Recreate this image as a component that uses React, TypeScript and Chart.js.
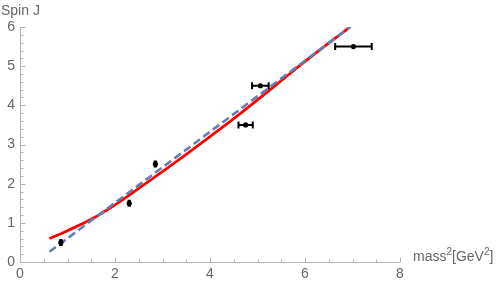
import React, { useEffect, useRef } from 'react';
import { Chart, registerables } from 'chart.js';

Chart.register(...registerables);

// Measured states (mass^2 in GeV^2, spin J) with horizontal errors
const massSq = [0.86, 2.3, 2.85, 4.75, 5.06, 7.02];
const spinJ = [0.5, 1.5, 2.5, 3.5, 4.5, 5.5];
const massSqErr = [0.015, 0.015, 0.015, 0.15, 0.175, 0.385];

// Linear trajectory (blue dashed)
const linearX = [0.62, 6.95];
const linearJ = [0.26, 6.0];

// Nonlinear trajectory (red)
const curveX = [0.62, 1.0, 1.5, 2.0, 2.5, 3.0, 3.5, 4.0, 4.5, 5.0, 5.5, 6.0, 6.5, 6.95];
const curveJ = [0.6, 0.8, 1.09, 1.46, 1.88, 2.31, 2.75, 3.2, 3.66, 4.14, 4.63, 5.12, 5.59, 6.0];

// Axes
const xTickLabels = [0, 2, 4, 6, 8];
const yTickLabels = [0, 1, 2, 3, 4, 5, 6];
const xMinorStep = 0.5;
const yMinorStep = 0.2;

const FONT = "'Liberation Sans', Arial, sans-serif";
const LABEL_COLOR = '#666666';
const AXIS_COLOR = '#b3b3b3';

const axesPlugin = {
  id: 'mmaAxes',
  beforeDatasetsDraw(chart: any) {
    const { ctx } = chart;
    const xs = chart.scales.x;
    const ys = chart.scales.y;
    const x0 = Math.round(xs.getPixelForValue(xs.min)) + 0.5;
    const x1 = xs.getPixelForValue(xs.max);
    const y0 = Math.round(ys.getPixelForValue(ys.min)) + 0.5;
    const y1 = ys.getPixelForValue(ys.max);
    ctx.save();
    ctx.strokeStyle = AXIS_COLOR;
    ctx.lineWidth = 1;
    ctx.beginPath();
    ctx.moveTo(x0, y0);
    ctx.lineTo(x1, y0);
    ctx.moveTo(x0, y0);
    ctx.lineTo(x0, y1);
    for (let v = xs.min; v <= xs.max + 1e-9; v += xMinorStep) {
      const major = xTickLabels.some((t) => Math.abs(t - v) < 1e-6);
      const px = Math.round(xs.getPixelForValue(v)) + 0.5;
      ctx.moveTo(px, y0);
      ctx.lineTo(px, y0 - (major ? 5 : 3));
    }
    for (let i = 0; ys.min + i * yMinorStep <= ys.max + 1e-9; i++) {
      const v = ys.min + i * yMinorStep;
      const major = yTickLabels.some((t) => Math.abs(t - v) < 1e-6);
      const py = Math.round(ys.getPixelForValue(v)) + 0.5;
      ctx.moveTo(x0, py);
      ctx.lineTo(x0 + (major ? 5 : 3), py);
    }
    ctx.stroke();
    ctx.restore();
  },
  afterDraw(chart: any) {
    const { ctx } = chart;
    const xs = chart.scales.x;
    const ys = chart.scales.y;
    ctx.save();
    ctx.fillStyle = LABEL_COLOR;
    ctx.textBaseline = 'alphabetic';
    ctx.textAlign = 'left';
    ctx.font = `14px ${FONT}`;
    ctx.fillText('Spin J', 1, 15);
    const baseY = ys.getPixelForValue(0) - 1;
    let x = xs.getPixelForValue(xs.max) + 13;
    const parts: [string, boolean][] = [
      ['mass', false],
      ['2', true],
      ['[GeV', false],
      ['2', true],
      [']', false],
    ];
    for (const [t, sup] of parts) {
      ctx.font = sup ? `10px ${FONT}` : `14px ${FONT}`;
      ctx.fillText(t, x, sup ? baseY - 6 : baseY);
      x += ctx.measureText(t).width;
    }
    ctx.restore();
  },
};

const errorBarPlugin = {
  id: 'xErrorBars',
  afterDatasetsDraw(chart: any) {
    const { ctx } = chart;
    const xs = chart.scales.x;
    const ys = chart.scales.y;
    ctx.save();
    ctx.strokeStyle = '#000000';
    ctx.lineWidth = 2;
    const cap = 3.5;
    massSq.forEach((m, i) => {
      const py = ys.getPixelForValue(spinJ[i]);
      const pl = xs.getPixelForValue(m - massSqErr[i]);
      const pr = xs.getPixelForValue(m + massSqErr[i]);
      ctx.beginPath();
      ctx.moveTo(pl, py);
      ctx.lineTo(pr, py);
      ctx.moveTo(pl, py - cap);
      ctx.lineTo(pl, py + cap);
      ctx.moveTo(pr, py - cap);
      ctx.lineTo(pr, py + cap);
      ctx.stroke();
    });
    ctx.restore();
  },
};

export default function App() {
  const ref = useRef<HTMLCanvasElement | null>(null);
  useEffect(() => {
    document.body.style.margin = '0';
    const canvas = ref.current;
    if (!canvas) return;
    const chart = new Chart(canvas, {
      type: 'scatter',
      data: {
        datasets: [
          {
            label: 'data',
            data: massSq.map((m, i) => ({ x: m, y: spinJ[i] })),
            backgroundColor: '#000000',
            borderColor: '#000000',
            pointRadius: 2.6,
            pointBorderWidth: 0,
            showLine: false,
          },
          {
            label: 'linear',
            data: linearX.map((m, i) => ({ x: m, y: linearJ[i] })),
            borderColor: '#5E81B5',
            borderWidth: 2.6,
            borderDash: [8, 4],
            pointRadius: 0,
            showLine: true,
          },
          {
            label: 'nonlinear',
            data: curveX.map((m, i) => ({ x: m, y: curveJ[i] })),
            borderColor: '#ff0000',
            borderWidth: 2.8,
            pointRadius: 0,
            showLine: true,
            cubicInterpolationMode: 'monotone',
          },
        ],
      },
      options: {
        animation: false,
        responsive: false,
        events: [],
        layout: { padding: { top: 27, right: 100, left: 0, bottom: 0 } },
        plugins: { legend: { display: false }, tooltip: { enabled: false } },
        scales: {
          x: {
            type: 'linear',
            min: 0,
            max: 8,
            afterBuildTicks: (s: any) => {
              s.ticks = xTickLabels.map((v) => ({ value: v }));
            },
            afterFit: (s: any) => {
              s.height = 24;
            },
            grid: { display: false, drawTicks: false },
            border: { display: false },
            ticks: {
              color: LABEL_COLOR,
              font: { family: FONT, size: 14 },
              padding: 4,
              maxRotation: 0,
              autoSkip: false,
            },
          },
          y: {
            type: 'linear',
            min: 0,
            max: 6,
            afterBuildTicks: (s: any) => {
              s.ticks = yTickLabels.map((v) => ({ value: v }));
            },
            afterFit: (s: any) => {
              s.width = 20;
            },
            grid: { display: false, drawTicks: false },
            border: { display: false },
            ticks: {
              color: LABEL_COLOR,
              font: { family: FONT, size: 14 },
              padding: 5,
              autoSkip: false,
            },
          },
        },
      },
      plugins: [axesPlugin, errorBarPlugin],
    } as any);
    return () => chart.destroy();
  }, []);
  return (
    <div style={{ width: 500, height: 286 }}>
      <canvas ref={ref} width={500} height={286} />
    </div>
  );
}
